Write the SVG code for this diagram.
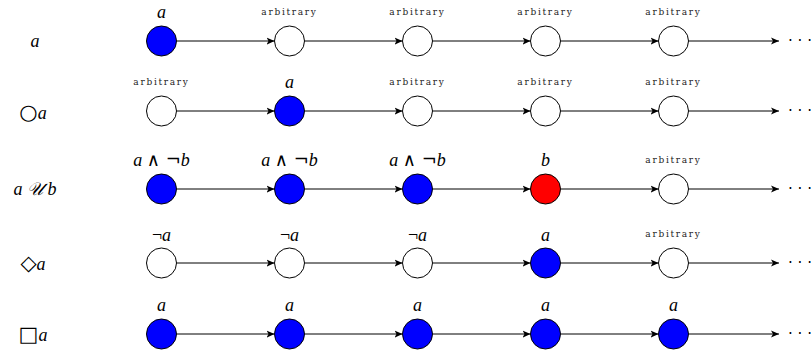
<svg xmlns="http://www.w3.org/2000/svg" width="811" height="351" viewBox="0 0 811 351">
<defs>
<marker id="arr" viewBox="0 0 10 10" refX="10" refY="5" markerWidth="8" markerHeight="8" markerUnits="userSpaceOnUse" orient="auto">
<path d="M0,0.5 L10,5 L0,9.5 L2.5,5 Z" fill="#000"/>
</marker>
</defs>
<style>
.n{stroke:#000;stroke-width:1}
.w{fill:#fff}
.b{fill:#0000ff}
.r{fill:#ff0000}
.e{stroke:#000;stroke-width:1;fill:none;marker-end:url(#arr)}
.m{font-family:"Liberation Serif","DejaVu Serif",serif;font-style:italic;font-size:18px;fill:#000;text-anchor:middle}
.u{font-style:normal}
.w2{font-family:"DejaVu Serif",serif;font-style:normal;font-size:18px}
.s{font-family:"DejaVu Sans",sans-serif;font-style:normal;font-size:21px}
.arb{font-family:"DejaVu Serif",serif;font-size:9px;letter-spacing:1.7px;fill:#222;text-anchor:middle}
.dots{font-family:"DejaVu Sans",sans-serif;font-size:15px;fill:#000;text-anchor:middle}
</style>
<rect width="811" height="351" fill="#fff"/>
<g id="row-labels">
<text class="m" x="35" y="47">a</text>
<text class="m" x="33" y="119"><tspan class="s">○</tspan>a</text>
<text class="m" x="35" y="195">a <tspan>𝒰</tspan> b</text>
<text class="m" x="33" y="270"><tspan class="s">◇</tspan>a</text>
<text class="m" x="33" y="341"><tspan class="s">□</tspan>a</text>
</g>
<g id="connectors">
<line class="e" x1="176.5" y1="41" x2="274.5" y2="41"/>
<line class="e" x1="304.5" y1="41" x2="402.5" y2="41"/>
<line class="e" x1="432.5" y1="41" x2="530.5" y2="41"/>
<line class="e" x1="560.5" y1="41" x2="658.5" y2="41"/>
<line class="e" x1="688.5" y1="41" x2="779" y2="41"/>
<line class="e" x1="176.5" y1="111" x2="274.5" y2="111"/>
<line class="e" x1="304.5" y1="111" x2="402.5" y2="111"/>
<line class="e" x1="432.5" y1="111" x2="530.5" y2="111"/>
<line class="e" x1="560.5" y1="111" x2="658.5" y2="111"/>
<line class="e" x1="688.5" y1="111" x2="779" y2="111"/>
<line class="e" x1="176.5" y1="189" x2="274.5" y2="189"/>
<line class="e" x1="304.5" y1="189" x2="402.5" y2="189"/>
<line class="e" x1="432.5" y1="189" x2="530.5" y2="189"/>
<line class="e" x1="560.5" y1="189" x2="658.5" y2="189"/>
<line class="e" x1="688.5" y1="189" x2="779" y2="189"/>
<line class="e" x1="176.5" y1="263" x2="274.5" y2="263"/>
<line class="e" x1="304.5" y1="263" x2="402.5" y2="263"/>
<line class="e" x1="432.5" y1="263" x2="530.5" y2="263"/>
<line class="e" x1="560.5" y1="263" x2="658.5" y2="263"/>
<line class="e" x1="688.5" y1="263" x2="779" y2="263"/>
<line class="e" x1="176.5" y1="334" x2="274.5" y2="334"/>
<line class="e" x1="304.5" y1="334" x2="402.5" y2="334"/>
<line class="e" x1="432.5" y1="334" x2="530.5" y2="334"/>
<line class="e" x1="560.5" y1="334" x2="658.5" y2="334"/>
<line class="e" x1="688.5" y1="334" x2="779" y2="334"/>
<text class="dots" x="800" y="46">· · ·</text>
<text class="dots" x="800" y="116">· · ·</text>
<text class="dots" x="800" y="194">· · ·</text>
<text class="dots" x="800" y="268">· · ·</text>
<text class="dots" x="800" y="339">· · ·</text>
</g>
<!-- row 1: a -->
<g id="r1n1"><circle class="n b" cx="161.5" cy="41" r="15"/><text class="m" x="161.5" y="18">a</text></g>
<g id="r1n2"><circle class="n w" cx="289.5" cy="41" r="15"/><text class="arb" x="289.5" y="15">arbitrary</text></g>
<g id="r1n3"><circle class="n w" cx="417.5" cy="41" r="15"/><text class="arb" x="417.5" y="15">arbitrary</text></g>
<g id="r1n4"><circle class="n w" cx="545.5" cy="41" r="15"/><text class="arb" x="545.5" y="15">arbitrary</text></g>
<g id="r1n5"><circle class="n w" cx="673.5" cy="41" r="15"/><text class="arb" x="673.5" y="15">arbitrary</text></g>
<!-- row 2: next a -->
<g id="r2n1"><circle class="n w" cx="161.5" cy="111" r="15"/><text class="arb" x="161.5" y="85">arbitrary</text></g>
<g id="r2n2"><circle class="n b" cx="289.5" cy="111" r="15"/><text class="m" x="289.5" y="88">a</text></g>
<g id="r2n3"><circle class="n w" cx="417.5" cy="111" r="15"/><text class="arb" x="417.5" y="85">arbitrary</text></g>
<g id="r2n4"><circle class="n w" cx="545.5" cy="111" r="15"/><text class="arb" x="545.5" y="85">arbitrary</text></g>
<g id="r2n5"><circle class="n w" cx="673.5" cy="111" r="15"/><text class="arb" x="673.5" y="85">arbitrary</text></g>
<!-- row 3: a U b -->
<g id="r3n1"><circle class="n b" cx="161.5" cy="189" r="15"/><text class="m" x="161.5" y="166">a <tspan class="w2">∧ ¬</tspan>b</text></g>
<g id="r3n2"><circle class="n b" cx="289.5" cy="189" r="15"/><text class="m" x="289.5" y="166">a <tspan class="w2">∧ ¬</tspan>b</text></g>
<g id="r3n3"><circle class="n b" cx="417.5" cy="189" r="15"/><text class="m" x="417.5" y="166">a <tspan class="w2">∧ ¬</tspan>b</text></g>
<g id="r3n4"><circle class="n r" cx="545.5" cy="189" r="15"/><text class="m" x="545.5" y="166">b</text></g>
<g id="r3n5"><circle class="n w" cx="673.5" cy="189" r="15"/><text class="arb" x="673.5" y="163">arbitrary</text></g>
<!-- row 4: eventually a -->
<g id="r4n1"><circle class="n w" cx="161.5" cy="263" r="15"/><text class="m" x="161.5" y="241"><tspan class="u">¬</tspan>a</text></g>
<g id="r4n2"><circle class="n w" cx="289.5" cy="263" r="15"/><text class="m" x="289.5" y="241"><tspan class="u">¬</tspan>a</text></g>
<g id="r4n3"><circle class="n w" cx="417.5" cy="263" r="15"/><text class="m" x="417.5" y="241"><tspan class="u">¬</tspan>a</text></g>
<g id="r4n4"><circle class="n b" cx="545.5" cy="263" r="15"/><text class="m" x="545.5" y="241">a</text></g>
<g id="r4n5"><circle class="n w" cx="673.5" cy="263" r="15"/><text class="arb" x="673.5" y="237">arbitrary</text></g>
<!-- row 5: always a -->
<g id="r5n1"><circle class="n b" cx="161.5" cy="334" r="15"/><text class="m" x="161.5" y="311">a</text></g>
<g id="r5n2"><circle class="n b" cx="289.5" cy="334" r="15"/><text class="m" x="289.5" y="311">a</text></g>
<g id="r5n3"><circle class="n b" cx="417.5" cy="334" r="15"/><text class="m" x="417.5" y="311">a</text></g>
<g id="r5n4"><circle class="n b" cx="545.5" cy="334" r="15"/><text class="m" x="545.5" y="311">a</text></g>
<g id="r5n5"><circle class="n b" cx="673.5" cy="334" r="15"/><text class="m" x="673.5" y="311">a</text></g>
</svg>
